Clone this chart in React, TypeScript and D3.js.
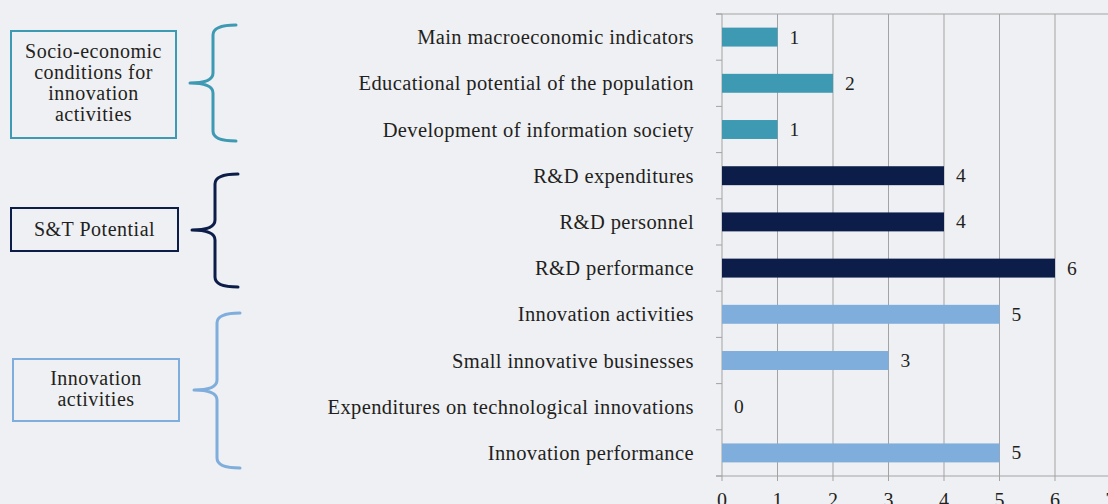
import React from "react";
import * as d3 from "d3";

const categories = [
  "Main macroeconomic indicators",
  "Educational potential of the population",
  "Development of information society",
  "R&D expenditures",
  "R&D personnel",
  "R&D performance",
  "Innovation activities",
  "Small innovative businesses",
  "Expenditures on technological innovations",
  "Innovation performance",
];
const values = [1, 2, 1, 4, 4, 6, 5, 3, 0, 5];
const groupOf = [0, 0, 0, 1, 1, 1, 2, 2, 2, 2];
const groupNames = [
  ["Socio-economic", "conditions for", "innovation", "activities"],
  ["S&T Potential"],
  ["Innovation", "activities"],
];
const groupColors = ["#3d9ab2", "#0b1d48", "#7faddc"];
const xTicks = [0, 1, 2, 3, 4, 5, 6, 7];

const W = 1108;
const H = 504;
const FONT = "'Liberation Serif', 'Times New Roman', serif";
const TEXT = "#231f20";
const GRID = "#a3a3a3";

// left-side boxes and braces layout
const boxes = [
  { x: 11, y: 31, w: 165, h: 107, ty: 58 },
  { x: 11, y: 208, w: 167, h: 43, ty: 236 },
  { x: 13, y: 359, w: 166, h: 62, ty: 385 },
];
const braces = [
  { top: 25, bottom: 141, mid: 83, tip: 190 },
  { top: 174, bottom: 287, mid: 230, tip: 192 },
  { top: 313, bottom: 468, mid: 390, tip: 194 },
];

function bracePath(b: { top: number; bottom: number; mid: number; tip: number }) {
  const spine = b.tip + 23;
  const end = b.tip + 46;
  const r = 10;
  const p = d3.path();
  p.moveTo(end, b.top);
  p.quadraticCurveTo(spine, b.top, spine, b.top + r);
  p.lineTo(spine, b.mid - r);
  p.quadraticCurveTo(spine, b.mid, b.tip, b.mid);
  p.quadraticCurveTo(spine, b.mid, spine, b.mid + r);
  p.lineTo(spine, b.bottom - r);
  p.quadraticCurveTo(spine, b.bottom, end, b.bottom);
  return p.toString();
}

export default function App() {
  const x = d3.scaleLinear().domain([0, 7]).range([722, 722 + 7 * 55.5]);
  const y = d3
    .scaleBand<number>()
    .domain(d3.range(categories.length))
    .range([14, 476])
    .paddingInner(0.59)
    .paddingOuter(0.295);
  const step = y.step();
  const top = 14;
  const bottom = 476;

  return (
    <svg
      width={W}
      height={H}
      style={{ position: "absolute", left: 0, top: 0, background: "#eff0f4" }}
      fontFamily={FONT}
    >
      <rect x={0} y={0} width={W} height={H} fill="#eff0f4" />
      {/* gridlines */}
      {xTicks.map((t) => (
        <line key={"g" + t} x1={x(t)} x2={x(t)} y1={top} y2={bottom + 5} stroke={GRID} strokeWidth={1} />
      ))}
      {/* top and bottom lines */}
      <line x1={716} x2={W} y1={top} y2={top} stroke={GRID} strokeWidth={1.2} />
      <line x1={716} x2={W} y1={bottom} y2={bottom} stroke={GRID} strokeWidth={1.2} />
      {/* category ticks */}
      {d3.range(categories.length + 1).map((i) => (
        <line key={"t" + i} x1={716} x2={722} y1={top + i * step} y2={top + i * step} stroke={GRID} strokeWidth={1} />
      ))}
      {/* bars */}
      {values.map((v, i) => (
        <rect
          key={"b" + i}
          x={x(0)}
          y={y(i)!}
          width={x(v) - x(0)}
          height={y.bandwidth()}
          fill={groupColors[groupOf[i]]}
        />
      ))}
      {/* value labels */}
      {values.map((v, i) => (
        <text
          key={"v" + i}
          x={x(v) + 12}
          y={y(i)! + y.bandwidth() / 2 + 6.5}
          fontSize={19.5}
          fill={TEXT}
        >
          {v}
        </text>
      ))}
      {/* category labels */}
      {categories.map((c, i) => (
        <text
          key={"c" + i}
          x={694}
          y={y(i)! + y.bandwidth() / 2 + 7}
          fontSize={20.5}
          letterSpacing={0.4}
          textAnchor="end"
          fill={TEXT}
        >
          {c}
        </text>
      ))}
      {/* x tick labels */}
      {xTicks.map((t) => (
        <text key={"xl" + t} x={x(t)} y={507} fontSize={20} textAnchor="middle" fill={TEXT}>
          {t}
        </text>
      ))}
      {/* group boxes */}
      {boxes.map((b, gi) => (
        <g key={"box" + gi}>
          <rect
            x={b.x}
            y={b.y}
            width={b.w}
            height={b.h}
            fill="none"
            stroke={groupColors[gi]}
            strokeWidth={2}
          />
          {groupNames[gi].map((ln, li) => (
            <text
              key={li}
              x={b.x + b.w / 2}
              y={b.ty + li * 21}
              fontSize={20}
              letterSpacing={0.5}
              textAnchor="middle"
              fill={TEXT}
            >
              {ln}
            </text>
          ))}
        </g>
      ))}
      {/* braces */}
      {braces.map((b, gi) => (
        <path
          key={"br" + gi}
          d={bracePath(b)}
          fill="none"
          stroke={groupColors[gi]}
          strokeWidth={3}
          strokeLinecap="round"
          strokeLinejoin="round"
        />
      ))}
    </svg>
  );
}
